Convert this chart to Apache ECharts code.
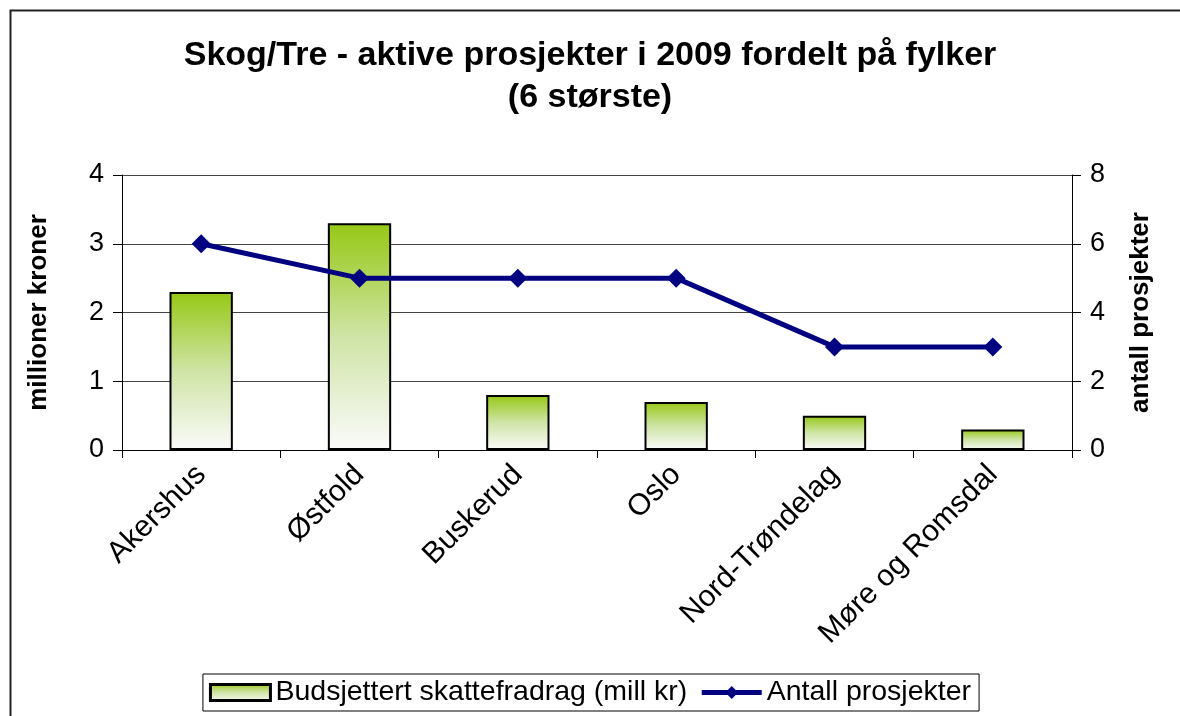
<!DOCTYPE html>
<html>
<head>
<meta charset="utf-8">
<script src="https://cdn.jsdelivr.net/npm/echarts@6/dist/echarts.min.js"></script>
<style>
  html, body { margin: 0; padding: 0; background: #fff; }
  #main { width: 1180px; height: 716px; }
</style>
</head>
<body>
<div id="main"></div>
<script>
var fylker = ['Akershus', 'Østfold', 'Buskerud', 'Oslo', 'Nord-Trøndelag', 'Møre og Romsdal'];
var skattefradrag = [2.3, 3.3, 0.8, 0.7, 0.5, 0.3];
var prosjekter = [6, 5, 5, 5, 3, 3];

var font = 'Liberation Sans, Arial, sans-serif';
var chart = echarts.init(document.getElementById('main'));

var option = {
  backgroundColor: '#fff',
  textStyle: { fontFamily: font },
  animation: false,
  graphic: [{
    type: 'rect',
    left: 8, top: 8,
    shape: { width: 1250, height: 800 },
    style: { fill: 'none', stroke: '#222', lineWidth: 2 },
    silent: true
  }],
  title: {
    text: 'Skog/Tre - aktive prosjekter i 2009 fordelt på fylker\n(6 største)',
    left: 'center',
    top: 30,
    textStyle: { fontSize: 34, fontWeight: 'bold', color: '#000', lineHeight: 42, fontFamily: font }
  },
  legend: {
    bottom: 5,
    left: 'center',
    borderColor: '#000',
    borderWidth: 1,
    padding: [4, 8, 4, 6],
    itemGap: 12,
    itemWidth: 60,
    itemHeight: 16,
    textStyle: { fontSize: 28.5, color: '#000', fontFamily: font },
    data: [
      { name: 'Budsjettert skattefradrag (mill kr)', icon: 'rect', itemStyle: { borderWidth: 3 } },
      { name: 'Antall prosjekter', lineStyle: { width: 5 } }
    ]
  },
  grid: { left: 122, right: 108, top: 175, bottom: 266 },
  xAxis: {
    type: 'category',
    data: fylker,
    axisLine: { lineStyle: { color: '#000', width: 1 } },
    axisTick: { show: true, length: 8, lineStyle: { color: '#000' } },
    axisLabel: { rotate: 45, fontSize: 30, color: '#000', margin: 20, fontFamily: font, interval: 0 }
  },
  yAxis: [{
    type: 'value',
    min: 0, max: 4, interval: 1,
    name: 'millioner kroner',
    nameLocation: 'middle',
    nameGap: 70,
    nameTextStyle: { fontSize: 26, fontWeight: 'bold', color: '#000', fontFamily: font },
    axisLine: { show: true, lineStyle: { color: '#000' } },
    axisTick: { show: true, length: 9, lineStyle: { color: '#000' } },
    axisLabel: { fontSize: 27, color: '#000', margin: 18, fontFamily: font },
    splitLine: { show: true, lineStyle: { color: '#444', width: 1 } }
  }, {
    type: 'value',
    min: 0, max: 8, interval: 2,
    name: 'antall prosjekter',
    nameLocation: 'middle',
    nameRotate: 90,
    nameGap: 56,
    nameTextStyle: { fontSize: 26, fontWeight: 'bold', color: '#000', fontFamily: font },
    axisLine: { show: true, lineStyle: { color: '#000' } },
    axisTick: { show: true, length: 9, lineStyle: { color: '#000' } },
    axisLabel: { fontSize: 27, color: '#000', margin: 18, fontFamily: font },
    splitLine: { show: false }
  }],
  series: [{
    name: 'Budsjettert skattefradrag (mill kr)',
    type: 'bar',
    data: skattefradrag,
    barWidth: '40%',
    itemStyle: {
      color: new echarts.graphic.LinearGradient(0, 0, 0, 1, [
        { offset: 0, color: '#96c814' },
        { offset: 0.5, color: '#cfe4a6' },
        { offset: 1, color: '#fbfbfb' }
      ]),
      borderColor: '#000',
      borderWidth: 2
    }
  }, {
    name: 'Antall prosjekter',
    type: 'line',
    yAxisIndex: 1,
    data: prosjekter,
    symbol: 'diamond',
    symbolSize: 19,
    lineStyle: { color: '#000080', width: 5 },
    itemStyle: { color: '#000080' }
  }]
};

chart.setOption(option);
</script>
</body>
</html>
